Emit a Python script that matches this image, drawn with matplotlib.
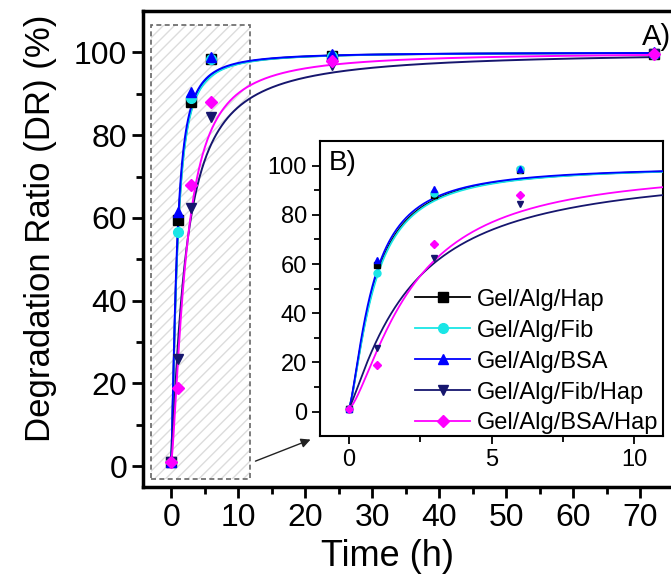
import numpy as np
import matplotlib.pyplot as plt
from matplotlib.lines import Line2D
from matplotlib.patches import Rectangle

plt.rcParams['font.family'] = ['Liberation Sans', 'DejaVu Sans']

# sampling times (h)
time_h = [0, 1, 3, 6, 24, 72]

samples = ['Gel/Alg/Hap', 'Gel/Alg/Fib', 'Gel/Alg/BSA', 'Gel/Alg/Fib/Hap', 'Gel/Alg/BSA/Hap']
dr_hap = [1, 59.5, 88, 98.3, 99, 99.5]
dr_fib = [1, 56.5, 89, 98.5, 99, 99.5]
dr_bsa = [1, 61.5, 90.5, 98.8, 99.5, 100]
dr_fib_hap = [1, 26, 62.5, 84.5, 97, 99.5]
dr_bsa_hap = [1, 19, 68, 88, 98, 99.5]
dr_all = [dr_hap, dr_fib, dr_bsa, dr_fib_hap, dr_bsa_hap]

# Hill-type fit: y = y0 + (ymax - y0) * t^n / (k^n + t^n)
fit_y0 = [1, 1, 1, 1, 1]
fit_ymax = [100, 100, 100, 100.3, 100]
fit_k = [0.86, 0.88, 0.82, 2.15, 2.2]
fit_n = [1.45, 1.45, 1.45, 1.2, 1.45]

colors = ['black', '#19e6e6', '#0000ff', '#16166e', '#ff00ff']
markers = ['s', 'o', '^', 'v', 'D']


def hill(t, y0, ymax, k, n):
    return y0 + (ymax - y0) * t**n / (k**n + t**n)


fig = plt.figure(figsize=(6.71, 5.83), dpi=100)
ax = fig.add_axes([0.2131, 0.1647, 0.8407, 0.8165])

t_main = np.linspace(0, 72, 800)
for i in range(len(samples)):
    ax.plot(t_main, hill(t_main, fit_y0[i], fit_ymax[i], fit_k[i], fit_n[i]),
            color=colors[i], lw=1.4, zorder=3)
    ax.plot(time_h, dr_all[i], ls='none', marker=markers[i], color=colors[i],
            ms=7 if markers[i] != 'D' else 6, zorder=4)

ax.set_xlim(-4.2, 80)
ax.set_ylim(-5, 110)
ax.set_xticks(np.arange(0, 80, 10))
ax.set_xticks(np.arange(5, 80, 10), minor=True)
ax.set_yticks(np.arange(0, 101, 20))
ax.set_yticks(np.arange(10, 101, 20), minor=True)
ax.tick_params(which='both', direction='out', width=2, labelsize=23, top=False, right=False)
ax.tick_params(which='major', length=8)
ax.tick_params(which='minor', length=5)
for s in ax.spines.values():
    s.set_linewidth(2.5)
ax.set_xlabel('Time (h)', fontsize=26)
ax.set_ylabel('Degradation Ratio (DR) (%)', fontsize=25)
ax.xaxis.set_label_coords(0.433, -0.11)
ax.yaxis.set_label_coords(-0.153, 0.544)
ax.text(0.884, 0.975, 'A)', transform=ax.transAxes, fontsize=21, va='top', ha='left')

# zoom region marker
ax.add_patch(Rectangle((-3, -3), 14.8, 109.7, fill=False, hatch='///',
                       edgecolor='#dcdcdc', lw=0, zorder=1))
ax.add_patch(Rectangle((-3, -3), 14.8, 109.7, fill=False, ls=(0, (3, 2)),
                       edgecolor='#666666', lw=1.2, zorder=2))
ax.annotate('', xy=(21.2, 6.7), xytext=(12.2, 1),
            arrowprops=dict(arrowstyle='-|>', color='#222222', lw=1, mutation_scale=14))

# inset
ins = fig.add_axes([0.477, 0.252, 0.511, 0.506])
t_ins = np.linspace(0, 11, 400)
for i in range(len(samples)):
    ins.plot(t_ins, hill(t_ins, fit_y0[i], fit_ymax[i], fit_k[i], fit_n[i]),
             color=colors[i], lw=1.3, zorder=3)
    ins.plot(time_h, dr_all[i], ls='none', marker=markers[i], color=colors[i],
             ms=5 if markers[i] != 'D' else 4.5, zorder=4)
ins.set_xlim(-1, 11)
ins.set_ylim(-10, 110)
ins.set_xticks([0, 5, 10])
ins.set_xticks([2.5, 7.5], minor=True)
ins.set_yticks(np.arange(0, 101, 20))
ins.set_yticks(np.arange(10, 101, 20), minor=True)
ins.tick_params(which='both', direction='out', width=1.3, labelsize=17, top=False, right=False)
ins.tick_params(which='major', length=6)
ins.tick_params(which='minor', length=4)
for s in ins.spines.values():
    s.set_linewidth(1.5)
ins.text(0.025, 0.97, 'B)', transform=ins.transAxes, fontsize=20, va='top', ha='left')

handles = [Line2D([], [], color=colors[i], marker=markers[i], lw=1.3,
                  ms=7 if markers[i] != 'D' else 6) for i in range(len(samples))]
ins.legend(handles, samples, loc='upper left', frameon=False, fontsize=17,
           handlelength=2.33, handletextpad=0.3, labelspacing=0.38,
           borderaxespad=0, borderpad=0, bbox_to_anchor=(0.277, 0.50))

fig.savefig('out.png', dpi=100)
